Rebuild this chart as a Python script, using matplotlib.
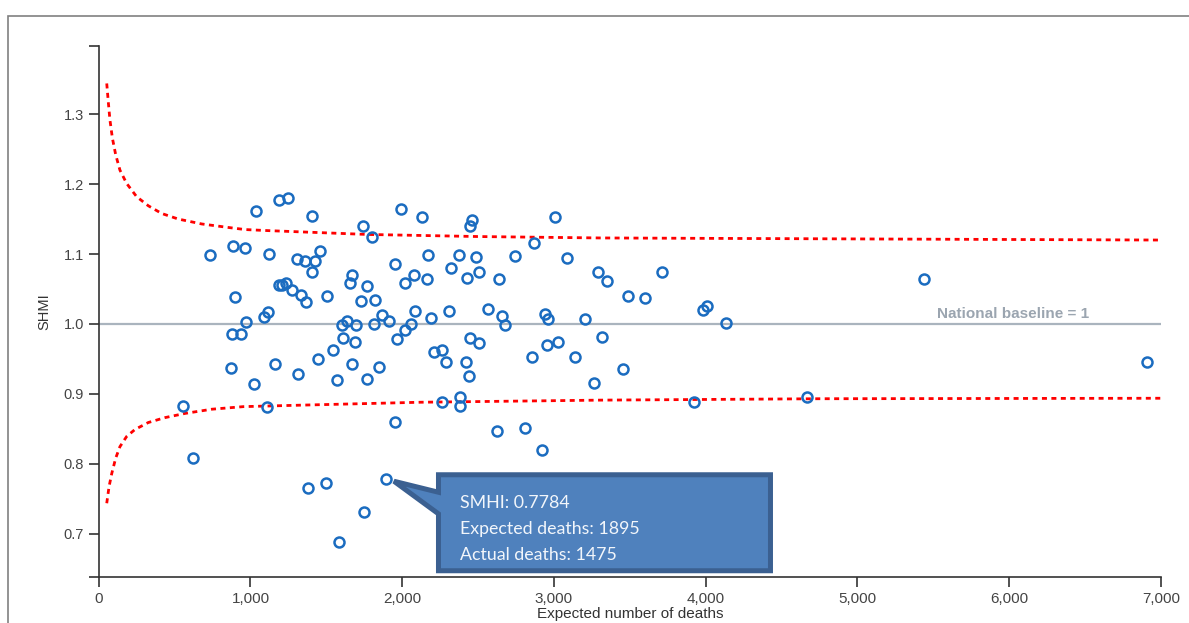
import matplotlib.pyplot as plt
from matplotlib.patches import Polygon, Rectangle
from matplotlib.transforms import IdentityTransform
from matplotlib.ticker import FuncFormatter

plt.rcParams['font.family'] = ['Liberation Sans', 'DejaVu Sans']

# trusts: expected deaths vs SHMI
expected = [735, 885, 962, 1034, 1188, 1250, 1124, 1403, 1309, 1361,
            1425, 1460, 1403, 896, 1190, 1234, 1208, 1274, 1331, 1366,
            1507, 971, 1089, 1116, 878, 938, 869, 1164, 1744, 1801,
            1990, 2130, 1955, 2170, 2320, 1669, 1654, 1766, 2016, 2080,
            2161, 1728, 1823, 1867, 1911, 2082, 2192, 2310, 1601, 1634,
            1693, 1812, 1607, 1691, 2016, 2058, 1964, 1546, 1445, 1669,
            1845, 2209, 2262, 2289, 1310, 1021, 1571, 1766, 557, 1107,
            619, 2260, 1950, 1381, 1500, 1895, 1746, 1581, 2458, 2444,
            3009, 2866, 2372, 2486, 2743, 3084, 2425, 2504, 2636, 3292,
            3347, 3712, 3488, 3598, 2567, 2656, 2677, 2941, 2963, 3207,
            3984, 4006, 4134, 2444, 2504, 2954, 3024, 3314, 2420, 2857,
            3137, 3453, 2442, 3262, 2381, 2381, 3925, 2625, 2811, 2919,
            4667, 5439, 6908]
shmi = [1.099, 1.111, 1.108, 1.161, 1.177, 1.180, 1.100, 1.154, 1.093, 1.090,
        1.090, 1.105, 1.074, 1.039, 1.056, 1.058, 1.055, 1.048, 1.041, 1.031,
        1.040, 1.003, 1.010, 1.017, 0.985, 0.985, 0.937, 0.942, 1.140, 1.124,
        1.164, 1.153, 1.086, 1.099, 1.080, 1.070, 1.059, 1.054, 1.059, 1.070,
        1.064, 1.033, 1.034, 1.013, 1.004, 1.018, 1.008, 1.019, 0.999, 1.004,
        0.999, 1.000, 0.980, 0.974, 0.991, 1.000, 0.978, 0.963, 0.950, 0.943,
        0.939, 0.960, 0.963, 0.945, 0.928, 0.914, 0.920, 0.921, 0.883, 0.881,
        0.808, 0.888, 0.860, 0.766, 0.773, 0.7784, 0.731, 0.688, 1.149, 1.140,
        1.153, 1.116, 1.098, 1.096, 1.097, 1.095, 1.066, 1.074, 1.064, 1.075,
        1.062, 1.074, 1.040, 1.037, 1.022, 1.012, 0.999, 1.014, 1.007, 1.007,
        1.020, 1.026, 1.002, 0.980, 0.973, 0.970, 0.974, 0.982, 0.946, 0.953,
        0.953, 0.936, 0.926, 0.916, 0.895, 0.882, 0.888, 0.847, 0.851, 0.819,
        0.895, 1.064, 0.946]

# control limits
upper_x = [53, 63, 74, 90, 112, 140, 184, 250, 327, 415, 525, 679, 854, 964,
           1115, 1770, 2502, 3303, 5000, 7000]
upper_y = [1.344, 1.318, 1.292, 1.266, 1.242, 1.220, 1.201, 1.182, 1.169, 1.158,
           1.150, 1.143, 1.138, 1.135, 1.1335, 1.128, 1.125, 1.123, 1.1216, 1.120]
lower_x = [53, 68, 86, 112, 140, 184, 239, 327, 437, 569, 745, 953,
           1367, 2124, 3303, 4746, 7000]
lower_y = [0.7435, 0.767, 0.786, 0.808, 0.8245, 0.839, 0.849, 0.859, 0.866, 0.872,
           0.878, 0.8817, 0.884, 0.888, 0.891, 0.893, 0.8937]

baseline_x = [0, 7000]
baseline_y = [1.0, 1.0]

x_ticks = [0, 1000, 2000, 3000, 4000, 5000, 6000, 7000]
y_ticks = [0.7, 0.8, 0.9, 1.0, 1.1, 1.2, 1.3]
y_min, y_max = 0.638, 1.398

tip_expected, tip_shmi = 1895, 0.7784
tip_lines = ["SMHI: 0.7784", "Expected deaths: 1895", "Actual deaths: 1475"]

fig = plt.figure(figsize=(11.89, 6.23), dpi=100)
W, H = 1189, 623
ax = fig.add_axes([98.7 / W, 1 - 577 / H, (1161 - 98.7) / W, (577 - 45.7) / H])

# outer frame, cut off at right and bottom
fig.patches.append(Rectangle((7.5 / W, -0.1), 1.2, 1.1 - 16 / H,
                             transform=fig.transFigure, fill=False,
                             edgecolor='#808080', lw=1.2))

ax.plot(baseline_x, baseline_y, color='#aab4be', lw=1.6, zorder=1)
ax.text(5524, 1.0045, "National baseline = 1", color='#9ba5b0',
        fontsize=11, fontweight='bold', va='bottom', ha='left')

ax.plot(upper_x, upper_y, color='#ff0000', lw=2, dashes=(1.8, 1.6), zorder=2)
ax.plot(lower_x, lower_y, color='#ff0000', lw=2, dashes=(1.8, 1.6), zorder=2)

ax.plot(expected, shmi, 'o', ms=7.2, mfc='none', mec='#1b6cc0', mew=1.8, zorder=3)

ax.set_xlim(0, 7000)
ax.set_ylim(y_min, y_max)
ax.set_xticks(x_ticks)
ax.set_yticks(y_ticks)
ax.xaxis.set_major_formatter(FuncFormatter(lambda v, p: f"{int(v):,}"))
ax.yaxis.set_major_formatter(FuncFormatter(lambda v, p: f"{v:.1f}"))
ax.set_yticks([y_min, y_max], minor=True)

for s in ['top', 'right']:
    ax.spines[s].set_visible(False)
for s in ['left', 'bottom']:
    ax.spines[s].set_color('#333333')
    ax.spines[s].set_linewidth(1.2)
ax.tick_params(which='both', length=7, width=1.2, color='#333333')
ax.tick_params(axis='x', labelsize=11, labelcolor='#444444', pad=3.5)
ax.tick_params(axis='y', labelsize=10.5, labelcolor='#444444', pad=3.5)

ax.set_xlabel("Expected number of deaths", fontsize=11, color='#333333')
ax.xaxis.set_label_coords(0.5, -0.057)
ax.set_ylabel("SHMI", fontsize=10.5, color='#333333')
ax.yaxis.set_label_coords(-0.0442, 0.5)

# tooltip callout (pixel offsets from the hovered point)
px, py = ax.transData.transform((tip_expected, tip_shmi))
tx, ty = px + 7.7, py - 2.4


def pt(dx, dy):
    return (tx + dx, ty - dy)


callout = [pt(44.5, -6.5), pt(376.5, -6.5), pt(376.5, 89.5), pt(44.5, 89.5),
           pt(44.5, 32.6), pt(0, 0), pt(44.5, 11)]
fig.patches.append(Polygon(callout, closed=True, transform=IdentityTransform(),
                           facecolor='#4f81bd', edgecolor='#3b6091', lw=3.6,
                           joinstyle='miter', zorder=10))
for i, line in enumerate(tip_lines):
    fig.text(tx + 66, ty - (26.6 + 25.9 * i), line, transform=IdentityTransform(),
             family=['Lato', 'DejaVu Sans'], fontsize=12.8, color='#f2f6fb',
             va='baseline', ha='left', zorder=11)

fig.savefig("out.png", dpi=100)
